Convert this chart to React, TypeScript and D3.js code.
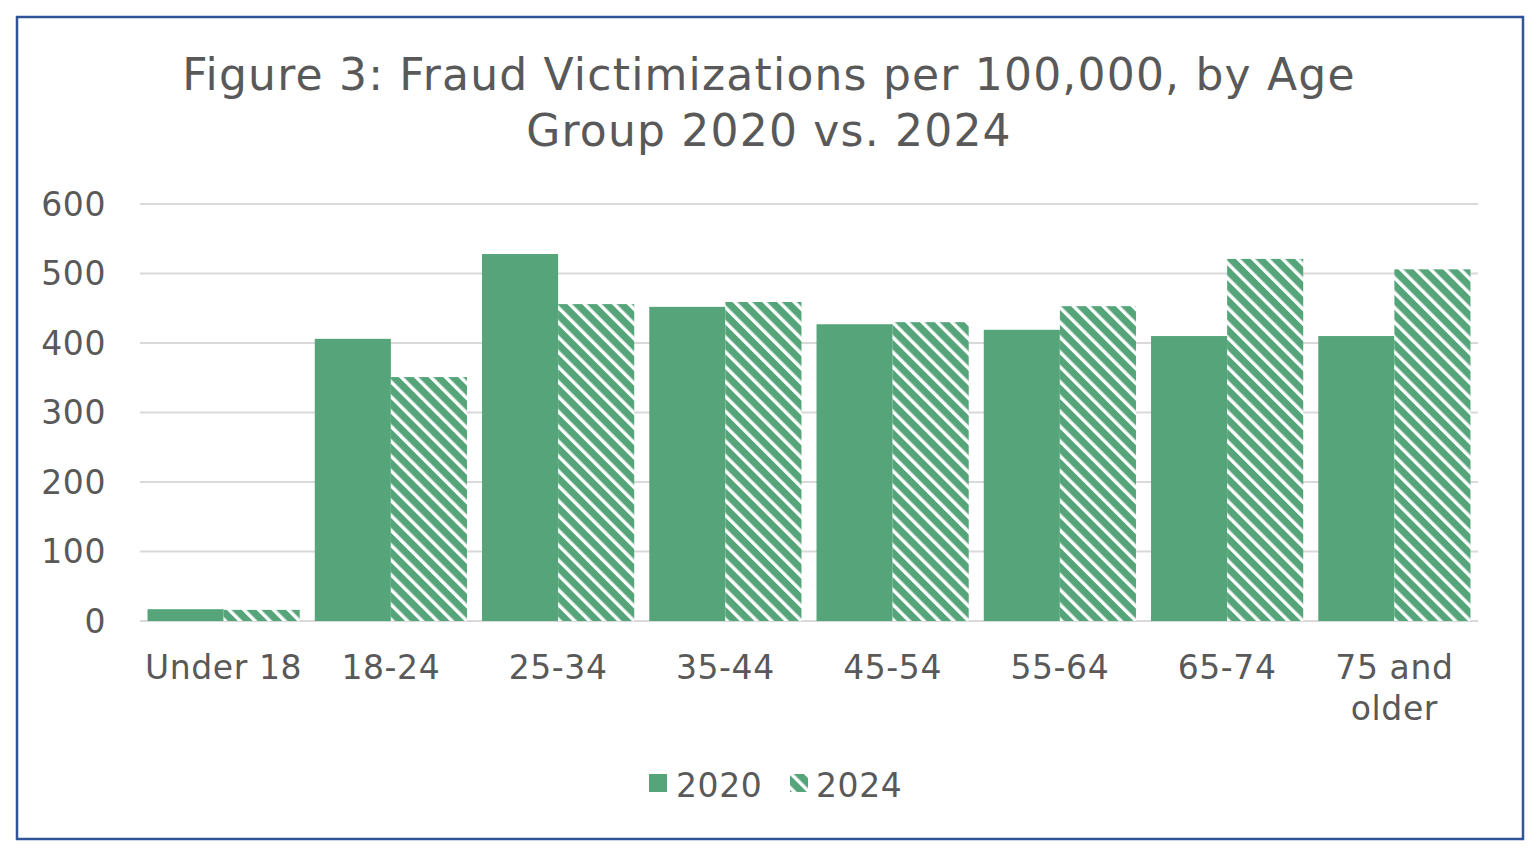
import { useMemo } from 'react';
import * as d3 from 'd3';

const categories = ['Under 18', '18-24', '25-34', '35-44', '45-54', '55-64', '65-74', '75 and older'];
const categoryLines = [['Under 18'], ['18-24'], ['25-34'], ['35-44'], ['45-54'], ['55-64'], ['65-74'], ['75 and', 'older']];
const seriesNames = ['2020', '2024'];
const values2020 = [17, 406, 528, 452, 427, 419, 410, 410];
const values2024 = [16, 351, 456, 459, 430, 453, 521, 506];
const yTicks = [0, 100, 200, 300, 400, 500, 600];

const W = 1540;
const H = 858;
const GREEN = '#56A57A';
const TEXT = '#595959';
const FONT = '"DejaVu Sans", Verdana, sans-serif';

export default function App() {
  const margin = { top: 204, left: 140, right: 62, bottom: 237 };
  const innerW = W - margin.left - margin.right;
  const innerH = H - margin.top - margin.bottom;

  const x0 = useMemo(() => d3.scaleBand<string>().domain(categories).range([0, innerW]).paddingInner(0.09).paddingOuter(0.045), [innerW]);
  const x1 = useMemo(() => d3.scaleBand<string>().domain(seriesNames).range([0, x0.bandwidth()]), [x0]);
  const y = useMemo(() => d3.scaleLinear().domain([0, 600]).range([innerH, 0]), [innerH]);

  const series = [values2020, values2024];

  return (
    <svg width={W} height={H} style={{ position: 'absolute', left: 0, top: 0, background: '#fff' }} fontFamily={FONT}>
      <defs>
        <pattern id="stripes" patternUnits="userSpaceOnUse" width={10.5} height={10.5} patternTransform="rotate(-45)">
          <rect width={10.5} height={10.5} fill={GREEN} />
          <rect width={3.4} height={10.5} fill="#fff" />
        </pattern>
      </defs>
      <rect x={17} y={17} width={1506} height={822} fill="#fff" stroke="#2F5597" strokeWidth={2.5} />

      <text x={769} y={90} textAnchor="middle" fontSize={44} letterSpacing={1.2} fill={TEXT}>
        Figure 3: Fraud Victimizations per 100,000, by Age
      </text>
      <text x={769} y={146} textAnchor="middle" fontSize={44} letterSpacing={1.2} fill={TEXT}>
        Group 2020 vs. 2024
      </text>

      <g transform={`translate(${margin.left},${margin.top})`}>
        {yTicks.map((t) => (
          <g key={t}>
            <line x1={0} x2={innerW} y1={y(t)} y2={y(t)} stroke="#D9D9D9" strokeWidth={2} />
            <text x={-34} y={y(t)} dy="0.36em" textAnchor="end" fontSize={33} letterSpacing={0.6} fill={TEXT}>
              {t}
            </text>
          </g>
        ))}

        {categories.map((c, i) => (
          <g key={c} transform={`translate(${x0(c)},0)`}>
            {seriesNames.map((s, j) => (
              <rect
                key={s}
                x={x1(s)}
                y={y(series[j][i])}
                width={x1.bandwidth()}
                height={innerH - y(series[j][i])}
                fill={j === 0 ? GREEN : 'url(#stripes)'}
              />
            ))}
          </g>
        ))}

        {categories.map((c, i) => (
          <text key={c} textAnchor="middle" fontSize={33} letterSpacing={0.6} fill={TEXT}>
            {categoryLines[i].map((ln, k) => (
              <tspan key={k} x={(x0(c) ?? 0) + x0.bandwidth() / 2} y={innerH + 58 + k * 41}>
                {ln}
              </tspan>
            ))}
          </text>
        ))}
      </g>

      <g>
        <rect x={649} y={774} width={18} height={18} fill={GREEN} />
        <text x={676} y={797} fontSize={33} letterSpacing={0.6} fill={TEXT}>2020</text>
        <rect x={790} y={774} width={18} height={18} fill="url(#stripes)" />
        <text x={816} y={797} fontSize={33} letterSpacing={0.6} fill={TEXT}>2024</text>
      </g>
    </svg>
  );
}
